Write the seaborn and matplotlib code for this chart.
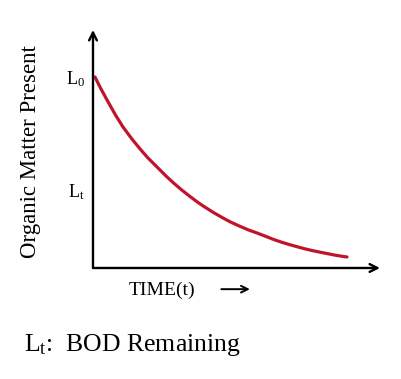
import matplotlib
matplotlib.use("Agg")
import matplotlib.pyplot as plt
import seaborn as sns
import pandas as pd

# values (time, organic matter left)
time = [0.08, 0.3, 0.6, 0.9, 1.2, 1.55, 1.85, 2.2, 2.56, 2.9, 3.2, 3.55, 3.88, 4.2, 4.5,
        4.85, 5.2, 5.5, 5.85, 6.2, 6.56, 6.9, 7.2, 7.55, 7.88, 8.2, 8.5, 8.85, 9.2, 9.45,
        9.7, 9.95, 10.16]
organic = [7.64, 7.2, 6.65, 6.12, 5.64, 5.17, 4.8, 4.4, 4.04, 3.7, 3.42, 3.12, 2.86, 2.62,
           2.42, 2.2, 2.0, 1.84, 1.68, 1.53, 1.4, 1.27, 1.15, 1.03, 0.93, 0.84, 0.76, 0.68,
           0.61, 0.56, 0.51, 0.47, 0.44]
ytick_pos = [7.64, 3.12]
ytick_labels = [r'$\mathrm{L_0}$', r'$\mathrm{L_t}$']

df = pd.DataFrame({'t': time, 'L': organic})

sns.set_style('white')
plt.rcParams['font.family'] = ['Liberation Serif', 'DejaVu Serif']
plt.rcParams['mathtext.fontset'] = 'custom'
plt.rcParams['mathtext.rm'] = 'Liberation Serif'
plt.rcParams['mathtext.it'] = 'Liberation Serif:italic'
plt.rcParams['text.color'] = 'black'
plt.rcParams['ytick.color'] = 'black'

fig = plt.figure(figsize=(4.01, 3.79), dpi=100)
ax = fig.add_axes([0.2319, 0.2929, 0.7157, 0.628])
sns.lineplot(data=df, x='t', y='L', ax=ax, color='#c0142a', linewidth=2.3)

ax.set_xlim(0, 11.48)
ax.set_ylim(0, 9.52)
for s in ax.spines.values():
    s.set_visible(False)
ax.set_xticks([])
ax.set_yticks(ytick_pos)
ax.set_yticklabels(ytick_labels, fontsize=13)
ax.tick_params(axis='y', length=0, pad=6, labelcolor='black')
ax.set_xlabel('')
ax.set_ylabel('')

# axes drawn as arrows
arrow = dict(arrowstyle='->', color='black', lw=1.7, mutation_scale=14, shrinkA=0, shrinkB=0)
ax.annotate('', xy=(0, 1.0), xytext=(0, 0), xycoords='axes fraction', arrowprops=arrow, annotation_clip=False)
ax.annotate('', xy=(1.0, 0), xytext=(0, 0), xycoords='axes fraction', arrowprops=arrow, annotation_clip=False)

fig.text(0.075, 0.6, 'Organic Matter Present', rotation=90, ha='center', va='center', fontsize=16.5)
fig.text(0.322, 0.235, 'TIME(t)', ha='left', va='center', fontsize=14)
ax.annotate('', xy=(0.63, 0.237), xytext=(0.545, 0.237), xycoords='figure fraction',
            arrowprops=dict(arrowstyle='->', color='black', lw=1.4, mutation_scale=12), annotation_clip=False)
fig.text(0.06, 0.09, r'$\mathrm{L_t}$:  BOD Remaining', ha='left', va='center', fontsize=18.5)

fig.savefig('out.png', dpi=100)
